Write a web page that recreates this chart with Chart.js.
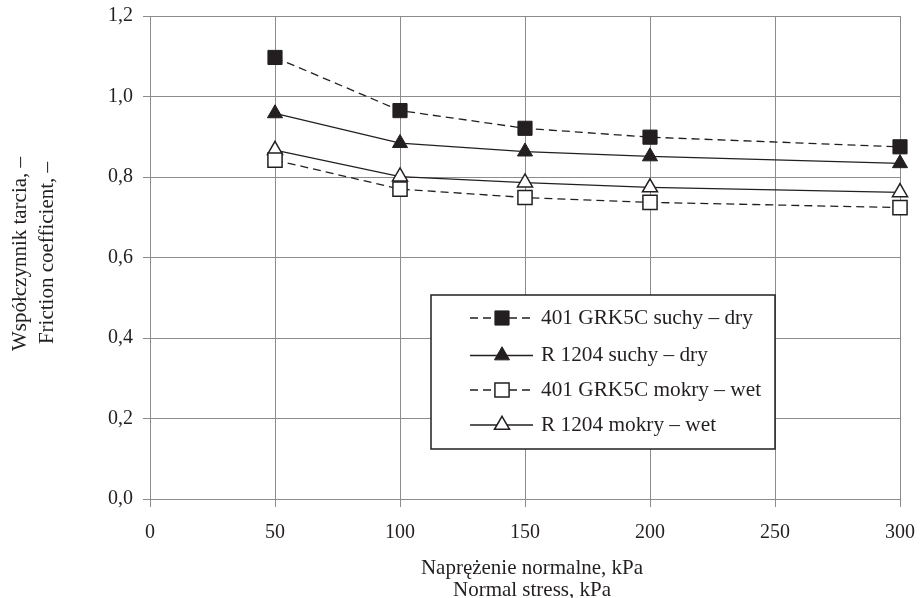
<!DOCTYPE html>
<html>
<head>
<meta charset="utf-8">
<script src="https://cdn.jsdelivr.net/npm/chart.js@4.4.0/dist/chart.umd.min.js"></script>
<style>
html,body{margin:0;padding:0;background:#fff;}
canvas{display:block;}
</style>
</head>
<body>
<canvas id="c" width="922" height="598"></canvas>
<script>
const xValues = [50, 100, 150, 200, 300];
const grkDry = [1.097, 0.965, 0.921, 0.899, 0.875];
const rDry   = [0.958, 0.884, 0.863, 0.851, 0.834];
const grkWet = [0.842, 0.770, 0.749, 0.737, 0.724];
const rWet   = [0.867, 0.801, 0.786, 0.774, 0.762];
const seriesLabels = ['401 GRK5C suchy – dry', 'R 1204 suchy – dry', '401 GRK5C mokry – wet', 'R 1204 mokry – wet'];
const xTickLabels = ['0', '50', '100', '150', '200', '250', '300'];
const yTickLabels = ['0,0', '0,2', '0,4', '0,6', '0,8', '1,0', '1,2'];
const xTitle = ['Naprężenie normalne, kPa', 'Normal stress, kPa'];
const yTitle = ['Współczynnik tarcia, –', 'Friction coefficient, –'];

const INK = '#231f20';
const GRID = '#8c8c8c';
const FONT = 'Liberation Serif';

function pts(ys){ return xValues.map((x,i)=>({x:x, y:ys[i]})); }

function mkSet(label, ys, style, filled, dashed, radius){
  return {
    label: label,
    data: pts(ys),
    borderColor: INK,
    borderWidth: 1.3,
    borderDash: dashed ? [8,5] : [],
    pointStyle: style,
    pointRadius: radius,
    pointHoverRadius: radius,
    pointBackgroundColor: filled ? INK : '#ffffff',
    pointBorderColor: INK,
    pointBorderWidth: filled ? 1 : 1.5,
    tension: 0,
    fill: false,
    clip: false
  };
}

function drawMarker(ctx, style, x, y, r, filled, bw){
  ctx.save();
  ctx.setLineDash([]);
  ctx.beginPath();
  if (style === 'rect'){
    const s = Math.SQRT1_2 * r;
    ctx.rect(x - s, y - s, 2*s, 2*s);
  } else {
    let rad = 0;
    ctx.moveTo(x + Math.sin(rad)*r, y - Math.cos(rad)*r);
    rad += 2*Math.PI/3;
    ctx.lineTo(x + Math.sin(rad)*r, y - Math.cos(rad)*r);
    rad += 2*Math.PI/3;
    ctx.lineTo(x + Math.sin(rad)*r, y - Math.cos(rad)*r);
    ctx.closePath();
  }
  ctx.fillStyle = filled ? INK : '#ffffff';
  ctx.fill();
  ctx.lineWidth = bw;
  ctx.strokeStyle = INK;
  ctx.stroke();
  ctx.restore();
}

const overlay = {
  id: 'overlay',
  afterDraw(chart){
    const ctx = chart.ctx;
    ctx.save();
    ctx.fillStyle = INK;
    ctx.font = '21px "' + FONT + '"';
    ctx.textAlign = 'center';
    ctx.textBaseline = 'middle';
    ctx.fillText(xTitle[0], 532, 568);
    ctx.fillText(xTitle[1], 532, 590);
    ctx.save();
    ctx.translate(20, 254);
    ctx.rotate(-Math.PI/2);
    ctx.fillText(yTitle[0], 0, 0);
    ctx.restore();
    ctx.save();
    ctx.translate(47, 253);
    ctx.rotate(-Math.PI/2);
    ctx.fillText(yTitle[1], 0, 0);
    ctx.restore();

    const bx = 431, by = 295, bw = 344, bh = 154;
    ctx.fillStyle = '#ffffff';
    ctx.fillRect(bx, by, bw, bh);
    ctx.strokeStyle = INK;
    ctx.lineWidth = 1.5;
    ctx.strokeRect(bx, by, bw, bh);
    const rows = [318, 355.5, 390, 425];
    chart.data.datasets.forEach((ds, i) => {
      const y = rows[i];
      ctx.save();
      ctx.strokeStyle = INK;
      ctx.lineWidth = 1.3;
      ctx.setLineDash(ds.borderDash || []);
      ctx.beginPath();
      ctx.moveTo(470, y);
      ctx.lineTo(533, y);
      ctx.stroke();
      ctx.restore();
      const filled = ds.pointBackgroundColor !== '#ffffff';
      drawMarker(ctx, ds.pointStyle, 502, y, ds.pointRadius, filled, ds.pointBorderWidth);
      ctx.fillStyle = INK;
      ctx.font = '21.3px "' + FONT + '"';
      ctx.textAlign = 'left';
      ctx.textBaseline = 'middle';
      ctx.fillText(ds.label, 541, y);
    });
    ctx.restore();
  }
};

new Chart(document.getElementById('c'), {
  type: 'line',
  data: {
    datasets: [
      mkSet(seriesLabels[0], grkDry, 'rect', true, true, 10),
      mkSet(seriesLabels[1], rDry, 'triangle', true, false, 8.7),
      mkSet(seriesLabels[2], grkWet, 'rect', false, true, 10),
      mkSet(seriesLabels[3], rWet, 'triangle', false, false, 8.7)
    ]
  },
  options: {
    responsive: false,
    animation: false,
    layout: { padding: { left: 0, top: 16, right: 22, bottom: 0 } },
    plugins: { legend: { display: false }, tooltip: { enabled: false }, title: { display: false } },
    scales: {
      x: {
        type: 'linear',
        min: 0, max: 300,
        ticks: {
          stepSize: 50,
          color: INK,
          font: { family: FONT, size: 20 },
          padding: 14,
          maxRotation: 0,
          callback: (v) => xTickLabels[Math.round(v/50)]
        },
        grid: { color: GRID, lineWidth: 1, tickLength: 8, drawTicks: true },
        border: { color: GRID, width: 1 },
        afterFit: (s) => { s.height = 99; s.paddingLeft = 0; s.paddingRight = 0; }
      },
      y: {
        type: 'linear',
        min: 0, max: 1.2,
        ticks: {
          stepSize: 0.2,
          color: INK,
          font: { family: FONT, size: 20 },
          padding: 10,
          callback: (v) => yTickLabels[Math.round(v/0.2)]
        },
        grid: { color: GRID, lineWidth: 1, tickLength: 7, drawTicks: true },
        border: { color: GRID, width: 1 },
        afterFit: (s) => { s.width = 150; s.paddingTop = 0; s.paddingBottom = 0; }
      }
    }
  },
  plugins: [overlay]
});
</script>
</body>
</html>
